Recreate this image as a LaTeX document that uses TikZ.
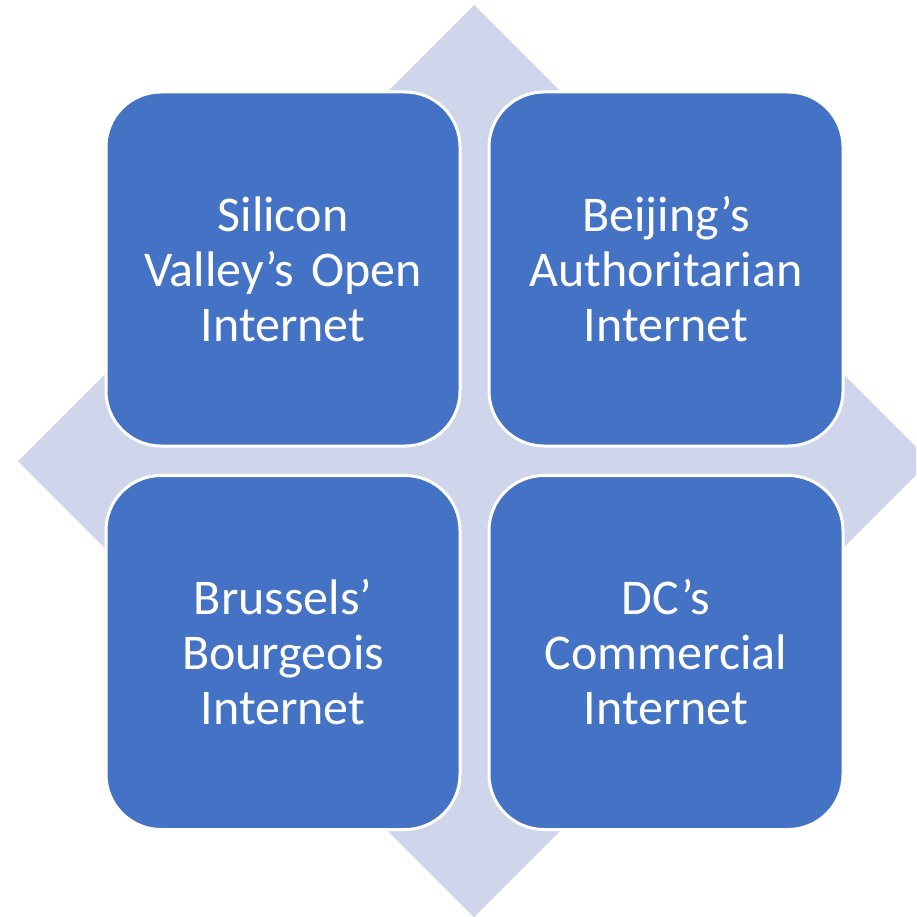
\documentclass[tikz,border=0pt]{standalone}
\usepackage{fontspec}
\setmainfont{Carlito}
\usepackage{xcolor}
\usepackage{tikz}
\definecolor{boxblue}{HTML}{4472C4}
\definecolor{paleblue}{HTML}{CFD5EA}
\def\backdiamond{(474,5) -- (930,461) -- (474,917) -- (18,461) -- cycle}
\def\pagebox{(0,0) rectangle (916,917)}

\begin{document}
\begin{tikzpicture}[x=1pt,y=-1pt,
    quadrant/.style={draw=white,line width=3pt,fill=boxblue,rounded corners=55pt,
      minimum width=354pt,minimum height=354pt,inner sep=0pt,text=white,
      text width=330pt,align=center,font=\fontsize{50}{55}\selectfont}]
    \useasboundingbox \pagebox;
      \begin{scope}
    \clip \pagebox;
    \fill[paleblue] \backdiamond;
      \end{scope}
      \node[quadrant] (valley) at (283,269) {Silicon\\Valley’s Open\\Internet};
      \node[quadrant] (beijing) at (666,269) {Beijing’s\\Authoritarian\\Internet};
      \node[quadrant] (brussels) at (283,652.5) {Brussels’\\Bourgeois\\Internet};
      \node[quadrant] (dc) at (666,652.5) {DC’s\\Commercial\\Internet};
    \end{tikzpicture}
\end{document}
